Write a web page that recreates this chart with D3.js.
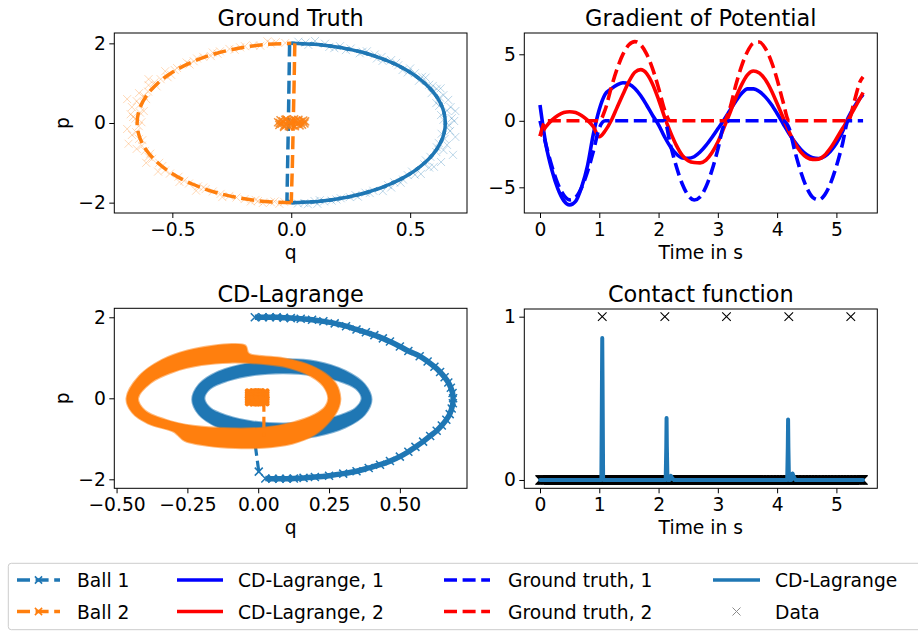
<!DOCTYPE html>
<html><head><meta charset="utf-8">
<script src="https://cdn.jsdelivr.net/npm/d3@7"></script>
<style>body{margin:0;background:#fff;} svg{display:block;}</style>
</head><body>
<svg id="c" width="918" height="631"></svg>
<script>
// ---------------- DATA ----------------
const C1 = "#1f77b4", C2 = "#ff7f0e";

// Ground Truth panel (q, p)
const gtBall1Arc = [[0,2],[0.1125,1.970],[0.2216,1.879],[0.324,1.732],[0.4165,1.532],[0.4964,1.286],[0.5612,1.0],[0.6089,0.684],[0.6382,0.347],[0.648,0],[0.6382,-0.347],[0.6089,-0.684],[0.5612,-1.0],[0.4964,-1.286],[0.4165,-1.532],[0.324,-1.732],[0.2216,-1.879],[0.1125,-1.970],[0,-2]];
const gtBall1Jump = [[0,-2],[-0.018,-1.95],[-0.012,0],[-0.007,1.98],[0,2]];
const gtBall2Arc = [[0,-2],[-0.1125,-1.970],[-0.2216,-1.879],[-0.324,-1.732],[-0.4165,-1.532],[-0.4964,-1.286],[-0.5612,-1.0],[-0.6089,-0.684],[-0.6382,-0.347],[-0.648,0],[-0.6382,0.347],[-0.6089,0.684],[-0.5612,1.0],[-0.4964,1.286],[-0.4165,1.532],[-0.324,1.732],[-0.2216,1.879],[-0.1125,1.970],[0,2]];
const gtBall2Jump = [[0.015,2],[0.012,1.0],[0.005,-1.0],[0,-2]];

const dataBall1 = [[0.030,2.04],[0.072,1.96],[0.142,1.99],[0.181,1.88],[0.250,1.87],[0.288,1.75],[0.351,1.72],[0.384,1.56],[0.441,1.51],[0.468,1.33],[0.520,1.25],[0.537,1.06],[0.580,0.96],[0.590,0.75],[0.625,0.64],[0.622,0.43],[0.655,0.31],[0.640,0.08],[0.662,-0.05],[0.632,-0.27],[0.645,-0.40],[0.612,-0.61],[0.610,-0.73],[0.566,-0.94],[0.560,-1.04],[0.508,-1.22],[0.490,-1.31],[0.433,-1.49],[0.407,-1.56],[0.345,-1.70],[0.312,-1.75],[0.246,-1.86],[0.208,-1.89],[0.138,-1.97],[0.098,-1.96],[0.028,-2.02],
  [0.060,2.02],[0.205,1.93],[0.318,1.80],[0.420,1.58],[0.500,1.37],[0.565,1.14],[0.612,0.86],[0.660,0.58],[0.690,0.30],[0.675,0.12],[0.668,-0.20],[0.655,-0.55],[0.680,-0.80],[0.630,-0.98],[0.545,-1.28],[0.460,-1.50],[0.385,-1.71],[0.280,-1.85],[0.170,-1.95],[0.055,-2.01],[0.628,0.87],[0.600,-1.10],[0.380,1.66],[0.110,-2.03],
  [0.10,2.06],[0.16,1.91],[0.23,1.83],[0.30,1.79],[0.36,1.62],[0.45,1.45],[0.49,1.27],[0.55,1.16],[0.595,0.93],[0.64,0.70],[0.61,0.50],[0.67,0.40],[0.63,0.20],[0.685,0.05],[0.655,-0.12],[0.69,-0.35],[0.62,-0.50],[0.64,-0.68],[0.585,-0.85],[0.58,-1.12],[0.52,-1.30],[0.47,-1.42],[0.42,-1.62],[0.33,-1.76],[0.27,-1.81],[0.19,-1.92],[0.12,-1.94],[0.07,-2.04]];
const dataBall2 = [[-0.025,2.01],[-0.085,1.99],[-0.130,1.94],[-0.195,1.93],[-0.238,1.84],[-0.300,1.80],[-0.338,1.68],[-0.396,1.62],[-0.428,1.47],[-0.480,1.38],[-0.505,1.21],[-0.549,1.10],[-0.566,0.92],[-0.602,0.79],[-0.610,0.60],[-0.637,0.46],[-0.636,0.26],[-0.655,0.11],[-0.641,-0.08],[-0.652,-0.23],[-0.626,-0.43],[-0.628,-0.57],[-0.593,-0.77],[-0.585,-0.90],[-0.542,-1.08],[-0.530,-1.19],[-0.474,-1.35],[-0.450,-1.45],[-0.392,-1.59],[-0.360,-1.66],[-0.297,-1.78],[-0.260,-1.83],[-0.196,-1.91],[-0.150,-1.93],[-0.086,-1.99],[-0.030,-1.98],
  [-0.065,2.03],[-0.215,1.90],[-0.330,1.77],[-0.440,1.52],[-0.530,1.30],[-0.600,0.95],[-0.640,0.75],[-0.670,0.40],[-0.665,0.15],[-0.690,-0.15],[-0.684,-0.52],[-0.650,-0.65],[-0.610,-1.00],[-0.560,-1.22],[-0.470,-1.48],[-0.400,-1.70],[-0.290,-1.86],[-0.170,-1.97],[-0.050,-2.03],[-0.120,-2.01],
  [-0.10,2.05],[-0.16,1.95],[-0.26,1.86],[-0.31,1.74],[-0.37,1.66],[-0.41,1.55],[-0.49,1.33],[-0.52,1.15],[-0.575,1.02],[-0.62,0.68],[-0.65,0.55],[-0.62,0.30],[-0.675,0.22],[-0.63,0.02],[-0.67,-0.30],[-0.64,-0.40],[-0.615,-0.70],[-0.60,-0.85],[-0.555,-1.00],[-0.51,-1.27],[-0.43,-1.52],[-0.37,-1.62],[-0.33,-1.72],[-0.23,-1.87],[-0.14,-1.96],[-0.07,-1.97],[-0.60,1.10],[-0.69,0.60]];
const dataRest = [[-0.055,0.02],[-0.05,-0.05],[-0.045,0.07],[-0.04,-0.02],[-0.035,0.04],[-0.03,-0.07],[-0.025,0.08],[-0.02,-0.03],[-0.015,0.05],[-0.01,-0.08],[-0.005,0.01],[0.0,0.07],[0.005,-0.05],[0.01,0.03],[0.015,-0.08],[0.02,0.06],[0.025,-0.02],[0.03,0.08],[0.035,-0.06],[0.04,0.03],[0.045,-0.04],[0.05,0.06],[0.055,-0.01],[0.058,0.04],[-0.048,0.0],[0.0,-0.01],[0.03,0.0],[-0.02,0.09],[0.012,0.09],[-0.03,-0.1]];

// Gradient of Potential panel
const timeS = [0,0.1,0.2,0.3,0.4,0.5,0.6,0.7,0.8,0.9,1.0,1.1,1.2,1.3,1.4,1.5,1.6,1.7,1.8,1.9,2.0,2.1,2.2,2.3,2.4,2.5,2.6,2.7,2.8,2.9,3.0,3.1,3.2,3.3,3.4,3.5,3.6,3.7,3.8,3.9,4.0,4.1,4.2,4.3,4.4,4.5,4.6,4.7,4.8,4.9,5.0,5.1,5.2,5.3,5.4,5.45];
const gradCD1 = [1.18,-1.8,-3.7,-5.1,-6.0,-6.32,-6.05,-5.0,-3.4,-1.0, 0.85,2.0,2.4,2.7,2.86,2.76,2.43,1.88,1.17,0.4, -0.3,-1.2,-1.95,-2.5,-2.79,-2.82,-2.7,-2.35,-1.85,-1.25, -0.6,0.05,0.75,1.45,2.05,2.4,2.4,2.2,1.8,1.25, 0.55,-0.2,-0.95,-1.6,-2.15,-2.55,-2.78,-2.83,-2.68,-2.29, -1.7,-0.85,0.25,1.05,1.7, 1.98];
const gradCD2 = [-1.15,-0.45,0.05,0.4,0.62,0.68,0.62,0.4,0.05,-0.45, -1.2,-0.75,0.0,1.0,2.0,2.95,3.65,3.85,3.55,2.75, 1.6,0.3,-0.85,-1.85,-2.6,-3.0,-3.14,-3.16,-2.95,-2.4, -1.6,-0.55,0.55,1.7,2.7,3.45,3.74,3.6,3.1,2.3, 1.3,0.25,-0.8,-1.7,-2.35,-2.75,-2.9,-2.88,-2.6,-2.05, -1.35,-0.6,0.1,0.9,1.7, 2.13];
const gradGT1 = [0,-1.79,-3.41,-4.72,-5.59,-5.94,-5.75,-5.03,-3.84,-2.30, -0.54,0,0,0,0,0,0,0,0,0, 0,0,-1.81,-3.44,-4.75,-5.61,-5.95,-5.72,-4.96,-3.73, -2.15,-0.37,0,0,0,0,0,0,0,0, 0,0,-0.54,-2.30,-3.84,-5.03,-5.75,-5.94,-5.59,-4.71, -3.41,-1.79,0,0,0, 0];
const gradGT2 = [-1.15,0,0,0,0,0,0,0,0,0, 0,0.85,2.47,3.90,5.01,5.71,5.95,5.71,5.01,3.90, 2.47,0.85,0,0,0,0,0,0,0,0, 0,0,0.90,2.63,4.11,5.21,5.83,5.92,5.45,4.49, 3.11,1.43,0,0,0,0,0,0,0,0, 0,0,0,1.44,2.95, 3.3];

// CD-Lagrange phase panel (q, p)
const cdBall1Arc = [[-0.012,2.00],[0.015,2.00],[0.04,2.00],[0.065,2.00],[0.09,1.99],[0.115,1.98],[0.15,1.965],[0.19,1.94],[0.23,1.90],[0.27,1.85],[0.31,1.78],[0.347,1.70],[0.38,1.63],[0.41,1.56],[0.44,1.48],[0.465,1.40],[0.50,1.28],[0.53,1.17],[0.57,1.04],[0.598,0.91],[0.622,0.78],[0.642,0.65],[0.658,0.52],[0.671,0.39],[0.680,0.26],[0.686,0.13],[0.688,0.0],[0.687,-0.12],[0.683,-0.25],[0.676,-0.39],[0.664,-0.53],[0.648,-0.67],[0.630,-0.80],[0.607,-0.93],[0.582,-1.07],[0.555,-1.20],[0.53,-1.32],[0.50,-1.44],[0.465,-1.55],[0.43,-1.64],[0.39,-1.72],[0.347,-1.80],[0.30,-1.86],[0.25,-1.91],[0.20,-1.945],[0.16,-1.965],[0.126,-1.98],[0.10,-1.985],[0.075,-1.985],[0.05,-1.985],[0.025,-1.98],[0.002,-1.81]];
const cdBall1Link = [[0.002,-1.81],[-0.009,-1.23],[-0.01,-0.9]];
const cdBall1BandOuter = [[0.400,-0.03],[0.376,0.345],[0.307,0.68],[0.205,0.91],[0.0835,0.96],[-0.038,0.86],[-0.140,0.663],[-0.209,0.345],[-0.233,-0.03],[-0.209,-0.405],[-0.140,-0.723],[-0.038,-0.936],[0.0835,-1.01],[0.205,-0.936],[0.307,-0.723],[0.376,-0.405]];
const cdBall1BandInner = [[0.365,0],[0.344,0.24],[0.284,0.43],[0.194,0.57],[0.0875,0.62],[-0.019,0.57],[-0.109,0.43],[-0.169,0.24],[-0.190,0],[-0.169,-0.24],[-0.109,-0.43],[-0.019,-0.57],[0.0875,-0.62],[0.194,-0.57],[0.284,-0.43],[0.344,-0.24]];
const cdBall2Rest = [[-0.027,0.105],[-0.012,0.11],[0.004,0.11],[0.02,0.105],[-0.027,0.05],[-0.012,0.05],[0.004,0.05],[0.02,0.05],[-0.027,-0.005],[-0.012,-0.005],[0.004,-0.005],[0.02,-0.005],[-0.027,-0.06],[-0.012,-0.065],[0.004,-0.065],[0.02,-0.06]];
const cdBall2Link = [[0.02,-0.06],[0.02,-0.95]];
const cdBall2BandOuter = [[0.290,0.00],[0.275,0.35],[0.235,0.62],[0.170,0.85],[0.080,1.00],[-0.020,1.07],[-0.035,1.12],[-0.045,1.30],[-0.090,1.34],[-0.160,1.30],[-0.250,1.18],[-0.340,0.95],[-0.420,0.55],[-0.465,0.00],[-0.445,-0.35],[-0.390,-0.62],[-0.300,-0.82],[-0.285,-0.90],[-0.260,-1.05],[-0.180,-1.17],[-0.080,-1.23],[0.020,-1.22],[0.120,-1.12],[0.200,-0.90],[0.255,-0.55],[0.283,-0.25]];
const cdBall2BandInner = [[0.247,0.00],[0.230,0.30],[0.185,0.55],[0.110,0.75],[0.010,0.85],[-0.100,0.88],[-0.200,0.82],[-0.300,0.65],[-0.380,0.38],[-0.424,0.00],[-0.400,-0.30],[-0.330,-0.52],[-0.230,-0.68],[-0.100,-0.74],[0.020,-0.72],[0.120,-0.60],[0.200,-0.40],[0.237,-0.20]];

// Contact function panel
const contactT = [0,1.035,1.045,1.05,1.055,1.065,2.12,2.13,2.135,2.14,2.15,2.19,2.21,2.23,2.26,4.17,4.18,4.185,4.19,4.2,4.24,4.26,4.28,4.31,5.45];
const contactV = [0,0,0.6,0.87,0.6,0,0,0.2,0.38,0.2,0,0,0.025,0.01,0,0,0.2,0.37,0.2,0,0,0.04,0.02,0,0];
const contactDataTimes = [1.05,2.106,3.146,4.197,5.243];
const dataTimeStep = 0.01, dataTimeEnd = 5.45;

// Tick labels
const gtXTicks = [-0.5,0,0.5], gtYTicks = [-2,0,2];
const gradXTicks = [0,1,2,3,4,5], gradYTicks = [-5,0,5];
const cdXTicks = [-0.5,-0.25,0,0.25,0.5], cdYTicks = [-2,0,2];
const contactXTicks = [0,1,2,3,4,5], contactYTicks = [0,1];

// Legend
const legendCols = [
  [{label:"Ball 1", kind:"ball", color:C1},{label:"Ball 2", kind:"ball", color:C2}],
  [{label:"CD-Lagrange, 1", kind:"solid", color:"#0000ff"},{label:"CD-Lagrange, 2", kind:"solid", color:"#ff0000"}],
  [{label:"Ground truth, 1", kind:"dash", color:"#0000ff"},{label:"Ground truth, 2", kind:"dash", color:"#ff0000"}],
  [{label:"CD-Lagrange", kind:"solid", color:C1},{label:"Data", kind:"marker", color:"#8c8c8c"}]
];

// ---------------- DRAWING ----------------
const FONT = "'DejaVu Sans', sans-serif";
const svg = d3.select("#c");
const DASH = "13,5.6";

function xMark(s){ return `M${-s},${-s}L${s},${s}M${-s},${s}L${s},${-s}`; }

function panel(id, box, xd, yd, title, xlabel, ylabel, xticks, yticks, xfmt, yfmt){
  const x = d3.scaleLinear().domain(xd).range([box.x0, box.x1]);
  const y = d3.scaleLinear().domain(yd).range([box.y1, box.y0]);
  svg.append("clipPath").attr("id", "clip-"+id).append("rect")
    .attr("x", box.x0).attr("y", box.y0).attr("width", box.x1-box.x0).attr("height", box.y1-box.y0);
  const plot = svg.append("g").attr("clip-path", `url(#clip-${id})`);
  const axes = svg.append("g");
  const gx = axes.append("g").attr("transform", `translate(0,${box.y1})`)
    .call(d3.axisBottom(x).tickValues(xticks).tickFormat(xfmt).tickSize(5).tickPadding(4.7).tickSizeOuter(0));
  const gy = axes.append("g").attr("transform", `translate(${box.x0},0)`)
    .call(d3.axisLeft(y).tickValues(yticks).tickFormat(yfmt).tickSize(5).tickPadding(3.5).tickSizeOuter(0));
  [gx, gy].forEach(g => {
    g.select(".domain").remove();
    g.attr("font-size", 18.7).attr("font-family", FONT);
    g.selectAll("line").attr("stroke", "#000").attr("stroke-width", 1);
    g.selectAll("text").attr("fill", "#000");
  });
  axes.append("rect").attr("x", box.x0).attr("y", box.y0)
    .attr("width", box.x1-box.x0).attr("height", box.y1-box.y0)
    .attr("fill", "none").attr("stroke", "#000").attr("stroke-width", 1);
  axes.append("text").attr("x", (box.x0+box.x1)/2).attr("y", box.y0-6.8)
    .attr("text-anchor", "middle").attr("font-family", FONT).attr("font-size", 22.4).text(title);
  axes.append("text").attr("x", (box.x0+box.x1)/2).attr("y", box.y1+46)
    .attr("text-anchor", "middle").attr("font-family", FONT).attr("font-size", 18.7).text(xlabel);
  if (ylabel) axes.append("text").attr("transform", `translate(69,${(box.y0+box.y1)/2}) rotate(-90)`)
    .attr("text-anchor", "middle").attr("font-family", FONT).attr("font-size", 18.7).text(ylabel);
  return {x, y, plot};
}

function markerEach(g, pts, x, y, s, color, sw, op, cap){
  pts.forEach(d => g.append("path").attr("d", xMark(s))
    .attr("transform", `translate(${x(d[0])},${y(d[1])})`)
    .attr("fill", "none").attr("stroke", color).attr("stroke-width", sw).attr("stroke-opacity", op)
    .attr("stroke-linecap", cap || "butt"));
}

const fmt1 = d => d3.format(".1f")(d), fmtI = d3.format("d"), fmt2 = d3.format(".2f");

// ---- Panel 1: Ground Truth
{
  const P = panel("gt", {x0:114.3, x1:467, y0:33, y1:213}, [-0.744,0.739], [-2.26,2.26],
    "Ground Truth", "q", "p", gtXTicks, gtYTicks, fmt1, fmtI);
  const line = d3.line().x(d => P.x(d[0])).y(d => P.y(d[1])).curve(d3.curveCatmullRom.alpha(0.5));
  const lin = d3.line().x(d => P.x(d[0])).y(d => P.y(d[1]));
  markerEach(P.plot, dataBall1, P.x, P.y, 4, C1, 1, 0.3);
  markerEach(P.plot, dataBall2, P.x, P.y, 4, C2, 1, 0.3);
  markerEach(P.plot, dataRest, P.x, P.y, 4, C1, 1, 0.3);
  [0, 9].forEach(off => P.plot.append("path").attr("d", line(gtBall1Arc)).attr("fill", "none")
    .attr("stroke", C1).attr("stroke-width", 3.5).attr("stroke-dasharray", DASH).attr("stroke-dashoffset", off));
  P.plot.append("path").attr("d", lin(gtBall1Jump)).attr("fill", "none")
    .attr("stroke", C1).attr("stroke-width", 3.5).attr("stroke-dasharray", DASH);
  P.plot.append("path").attr("d", lin(gtBall2Jump)).attr("fill", "none")
    .attr("stroke", C2).attr("stroke-width", 3.5).attr("stroke-dasharray", DASH);
  P.plot.append("path").attr("d", line(gtBall2Arc)).attr("fill", "none")
    .attr("stroke", C2).attr("stroke-width", 3.5).attr("stroke-dasharray", DASH);
  markerEach(P.plot, dataRest, P.x, P.y, 4, C2, 1.6, 0.75);
}

// ---- Panel 2: Gradient of Potential
{
  const P = panel("grad", {x0:524.3, x1:877.3, y0:33, y1:213}, [-0.265,5.69], [-6.93,6.6],
    "Gradient of Potential", "Time in s", null, gradXTicks, gradYTicks, fmtI, fmtI);
  const mk = vals => d3.line().x((d,i) => P.x(timeS[i])).y(d => P.y(d)).curve(d3.curveMonotoneX)(vals);
  P.plot.append("path").attr("d", mk(gradCD1)).attr("fill","none").attr("stroke","#0000ff").attr("stroke-width",3.6);
  P.plot.append("path").attr("d", mk(gradCD2)).attr("fill","none").attr("stroke","#ff0000").attr("stroke-width",3.6);
  P.plot.append("path").attr("d", mk(gradGT1)).attr("fill","none").attr("stroke","#0000ff").attr("stroke-width",3.6).attr("stroke-dasharray",DASH);
  P.plot.append("path").attr("d", mk(gradGT2)).attr("fill","none").attr("stroke","#ff0000").attr("stroke-width",3.6).attr("stroke-dasharray",DASH);
}

// ---- Panel 3: CD-Lagrange
{
  const P = panel("cd", {x0:114.3, x1:467, y0:308.3, y1:488.3}, [-0.508,0.737], [-2.222,2.222],
    "CD-Lagrange", "q", "p", cdXTicks, cdYTicks, fmt2, fmtI);
  const line = d3.line().x(d => P.x(d[0])).y(d => P.y(d[1])).curve(d3.curveCatmullRom.alpha(0.5));
  const closed = d3.line().x(d => P.x(d[0])).y(d => P.y(d[1])).curve(d3.curveCatmullRomClosed.alpha(0.5));
  const lin = d3.line().x(d => P.x(d[0])).y(d => P.y(d[1]));
  // Ball 1
  P.plot.append("path").attr("d", line(cdBall1Arc.slice(0, -1))).attr("fill","none").attr("stroke",C1).attr("stroke-width",5.5);
  markerEach(P.plot, cdBall1Arc, P.x, P.y, 4, C1, 1.5, 1);
  P.plot.append("path").attr("d", lin(cdBall1Link)).attr("fill","none").attr("stroke",C1).attr("stroke-width",3.2).attr("stroke-dasharray","11,5");
  P.plot.append("path").attr("d", closed(cdBall1BandOuter) + closed(cdBall1BandInner))
    .attr("fill", C1).attr("fill-rule","evenodd").attr("stroke", C1).attr("stroke-width",2).attr("stroke-opacity",0.55);
  // Ball 2
  P.plot.append("path").attr("d", closed(cdBall2BandOuter) + closed(cdBall2BandInner))
    .attr("fill", C2).attr("fill-rule","evenodd").attr("stroke", C2).attr("stroke-width",2).attr("stroke-opacity",0.55);
  P.plot.append("path").attr("d", lin(cdBall2Link)).attr("fill","none").attr("stroke",C2).attr("stroke-width",3.2).attr("stroke-dasharray","11,5");
  markerEach(P.plot, cdBall2Rest, P.x, P.y, 3.5, C2, 4.5, 1, "round");
}

// ---- Panel 4: Contact function
{
  const P = panel("contact", {x0:524.3, x1:877.3, y0:309, y1:488.3}, [-0.265,5.69], [-0.051,1.047],
    "Contact function", "Time in s", null, contactXTicks, contactYTicks, fmtI, fmtI);
  const zeroData = d3.range(0, dataTimeEnd + 1e-9, dataTimeStep).map(t => [t, 0]);
  const band = zeroData.map(d => {
    const cx = P.x(d[0]), cy = P.y(d[1]), s = 4.6;
    return `M${cx-s},${cy-s}L${cx+s},${cy+s}M${cx-s},${cy+s}L${cx+s},${cy-s}`;
  }).join("");
  P.plot.append("path").attr("d", band).attr("fill","none").attr("stroke","#000").attr("stroke-width",1.2);
  markerEach(P.plot, contactDataTimes.map(t => [t, 1]), P.x, P.y, 4.3, "#000", 1.1, 1);
  const ln = d3.line().x((d,i) => P.x(contactT[i])).y(d => P.y(d));
  P.plot.append("path").attr("d", ln(contactV)).attr("fill","none").attr("stroke",C1)
    .attr("stroke-width",4).attr("stroke-linejoin","round").attr("stroke-linecap","round");
}

// ---- Legend
{
  const g = svg.append("g");
  g.append("rect").attr("x", 8.3).attr("y", 563.3).attr("width", 930).attr("height", 66.4)
    .attr("rx", 3).attr("fill", "#fff").attr("stroke", "#cccccc").attr("stroke-width", 1);
  const handleX = [[17,60],[177,223],[444,490],[713,760]];
  const textX = [77, 238, 508, 775];
  const rowY = [580, 611.5];
  legendCols.forEach((col, ci) => col.forEach((it, ri) => {
    const y = rowY[ri], [a, b] = handleX[ci];
    if (it.kind === "ball") {
      g.append("line").attr("x1",a).attr("x2",b).attr("y1",y).attr("y2",y).attr("stroke",it.color)
        .attr("stroke-width",3.5).attr("stroke-dasharray",DASH);
      g.append("path").attr("d", xMark(3.6)).attr("transform",`translate(${(a+b)/2},${y})`)
        .attr("fill","none").attr("stroke",it.color).attr("stroke-width",1.5);
    } else if (it.kind === "solid") {
      g.append("line").attr("x1",a).attr("x2",b).attr("y1",y).attr("y2",y).attr("stroke",it.color).attr("stroke-width",3.6);
    } else if (it.kind === "dash") {
      g.append("line").attr("x1",a).attr("x2",b).attr("y1",y).attr("y2",y).attr("stroke",it.color)
        .attr("stroke-width",3.6).attr("stroke-dasharray",DASH);
    } else {
      g.append("path").attr("d", xMark(4)).attr("transform",`translate(${(a+b)/2},${y})`)
        .attr("fill","none").attr("stroke",it.color).attr("stroke-width",1);
    }
    g.append("text").attr("x", textX[ci]).attr("y", y + 7.2).attr("font-family", FONT)
      .attr("font-size", 18.7).attr("fill", "#000").text(it.label);
  }));
}
</script>
</body></html>
